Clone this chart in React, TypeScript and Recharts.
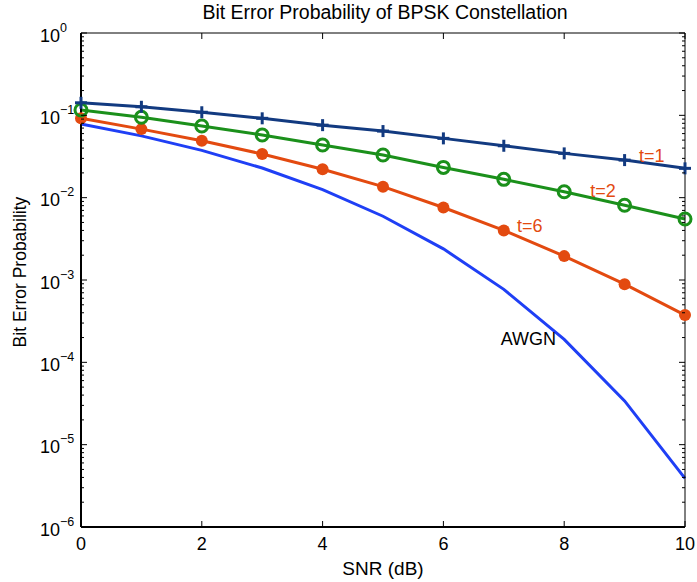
import React from "react";
import { LineChart, Line, XAxis, YAxis, ReferenceDot } from "recharts";

// SNR in dB
const snr = [0, 1, 2, 3, 4, 5, 6, 7, 8, 9, 10];
// bit error probability
const awgn = [0.0786, 0.0563, 0.0375, 0.0229, 0.0125, 0.00595, 0.00239, 0.00077, 0.00019, 3.4e-5, 3.9e-6];
const t1 = [0.142, 0.127, 0.109, 0.092, 0.076, 0.0644, 0.0525, 0.0427, 0.0345, 0.0286, 0.0227];
const t2 = [0.116, 0.0946, 0.0742, 0.0577, 0.0436, 0.033, 0.0233, 0.0167, 0.0118, 0.0081, 0.0055];
const t6 = [0.092, 0.068, 0.0492, 0.0339, 0.0221, 0.0136, 0.0076, 0.004, 0.00195, 0.00089, 0.000375];

const xTicks = [0, 2, 4, 6, 8, 10];
const yMajor = [1e-6, 1e-5, 1e-4, 1e-3, 1e-2, 1e-1, 1];
const minorMult = [2, 3, 4, 5, 6, 7, 8, 9];
const yTicks = [
  ...yMajor,
  ...yMajor.slice(0, -1).flatMap((d) => minorMult.map((m) => m * d)),
].sort((a, b) => a - b);

const curveLabels = [
  { text: "t=1", x: 9.24, y: 0.0271, color: "#e34a10" },
  { text: "t=2", x: 8.43, y: 0.0102, color: "#e34a10" },
  { text: "t=6", x: 7.22, y: 0.00383, color: "#e34a10" },
  { text: "AWGN", x: 6.95, y: 1.62e-4, color: "#000" },
];

const data = snr.map((s, i) => ({ snr: s, awgn: awgn[i], t1: t1[i], t2: t2[i], t6: t6[i] }));

const FONT = "'Liberation Sans', Arial, Helvetica, sans-serif";
const NAVY = "#123a80";
const GREEN = "#1b901b";
const ORANGE = "#e34a10";
const BLUE = "#1f3ff5";

const isMajor = (v: number) => {
  const l = Math.log10(v);
  return Math.abs(l - Math.round(l)) < 1e-6;
};

function LeftTick({ x, y, payload }: any) {
  const v = payload.value;
  const major = isMajor(v);
  const e = Math.round(Math.log10(v));
  return (
    <g>
      <line x1={x} x2={x + (major ? 6 : 3)} y1={y} y2={y} stroke="#000" strokeWidth={1} />
      {major && (
        <text x={x - 41} y={y + 8.5} fontSize={18} fontFamily={FONT} fill="#000">
          <tspan>10</tspan>
          <tspan dy={-10} fontSize={12.5}>
            {e === 0 ? "0" : "\u2212" + Math.abs(e)}
          </tspan>
        </text>
      )}
    </g>
  );
}

function RightTick({ x, y, payload }: any) {
  const major = isMajor(payload.value);
  return <line x1={x} x2={x - (major ? 6 : 3)} y1={y} y2={y} stroke="#000" strokeWidth={1} />;
}

function BottomTick({ x, y, payload }: any) {
  return (
    <g>
      <line x1={x} x2={x} y1={y} y2={y - 6} stroke="#000" strokeWidth={1} />
      <text x={x} y={y + 23} fontSize={18} fontFamily={FONT} textAnchor="middle" fill="#000">
        {payload.value}
      </text>
    </g>
  );
}

function TopTick({ x, y }: any) {
  return <line x1={x} x2={x} y1={y} y2={y + 6} stroke="#000" strokeWidth={1} />;
}

function PlusDot({ cx, cy }: any) {
  if (cx == null || cy == null) return <g />;
  return (
    <g>
      <line x1={cx - 6} x2={cx + 6} y1={cy} y2={cy} stroke={NAVY} strokeWidth={3} />
      <line x1={cx} x2={cx} y1={cy - 6} y2={cy + 6} stroke={NAVY} strokeWidth={3} />
    </g>
  );
}

function RingDot({ cx, cy }: any) {
  if (cx == null || cy == null) return <g />;
  return <circle cx={cx} cy={cy} r={6} fill="none" stroke={GREEN} strokeWidth={3} />;
}

function FilledDot({ cx, cy }: any) {
  if (cx == null || cy == null) return <g />;
  return <circle cx={cx} cy={cy} r={6} fill={ORANGE} stroke="none" />;
}

export default function App() {
  return (
    <div style={{ position: "absolute", left: 0, top: 0, width: 697, height: 582, background: "#fff" }}>
      <LineChart width={697} height={582} data={data} margin={{ top: 32, right: 0, bottom: 25, left: 21 }}>
        <XAxis
          dataKey="snr"
          type="number"
          domain={[0, 10]}
          ticks={xTicks}
          interval={0}
          tickSize={0}
          tickMargin={0}
          height={30}
          axisLine={{ stroke: "#000", strokeWidth: 2 }}
          tick={<BottomTick />}
        />
        <XAxis
          xAxisId="top"
          orientation="top"
          dataKey="snr"
          type="number"
          domain={[0, 10]}
          ticks={xTicks}
          interval={0}
          tickSize={0}
          tickMargin={0}
          height={1}
          axisLine={{ stroke: "#000", strokeWidth: 1 }}
          tick={<TopTick />}
        />
        <YAxis
          scale="log"
          type="number"
          domain={[1e-6, 1]}
          allowDataOverflow
          ticks={yTicks}
          interval={0}
          tickSize={0}
          tickMargin={0}
          width={60}
          axisLine={{ stroke: "#000", strokeWidth: 2 }}
          tick={<LeftTick />}
        />
        <YAxis
          yAxisId="right"
          orientation="right"
          scale="log"
          type="number"
          domain={[1e-6, 1]}
          allowDataOverflow
          ticks={yTicks}
          interval={0}
          tickSize={0}
          tickMargin={0}
          width={12}
          axisLine={{ stroke: "#000", strokeWidth: 1 }}
          tick={<RightTick />}
        />
        <Line dataKey="awgn" stroke={BLUE} strokeWidth={3} dot={false} isAnimationActive={false} type="linear" />
        <Line dataKey="t6" stroke={ORANGE} strokeWidth={3} dot={<FilledDot />} isAnimationActive={false} type="linear" />
        <Line dataKey="t2" stroke={GREEN} strokeWidth={3} dot={<RingDot />} isAnimationActive={false} type="linear" />
        <Line dataKey="t1" stroke={NAVY} strokeWidth={3} dot={<PlusDot />} isAnimationActive={false} type="linear" />
        {curveLabels.map((l) => (
          <ReferenceDot
            key={l.text}
            x={l.x}
            y={l.y}
            r={0}
            shape={(p: any) => (
              <text x={p.cx} y={p.cy} fontSize={18} fontFamily={FONT} fill={l.color}>
                {l.text}
              </text>
            )}
          />
        ))}
      </LineChart>
      <svg
        width={697}
        height={582}
        style={{ position: "absolute", left: 0, top: 0, pointerEvents: "none" }}
      >
        <text x={385} y={18.5} fontSize={19.5} fontFamily={FONT} textAnchor="middle" fill="#000">
          Bit Error Probability of BPSK Constellation
        </text>
        <text x={383} y={575} fontSize={19} fontFamily={FONT} textAnchor="middle" fill="#000">
          SNR (dB)
        </text>
        <text
          x={26}
          y={272}
          fontSize={17.5}
          fontFamily={FONT}
          textAnchor="middle"
          fill="#000"
          transform="rotate(-90 26 272)"
        >
          Bit Error Probability
        </text>
      </svg>
    </div>
  );
}
